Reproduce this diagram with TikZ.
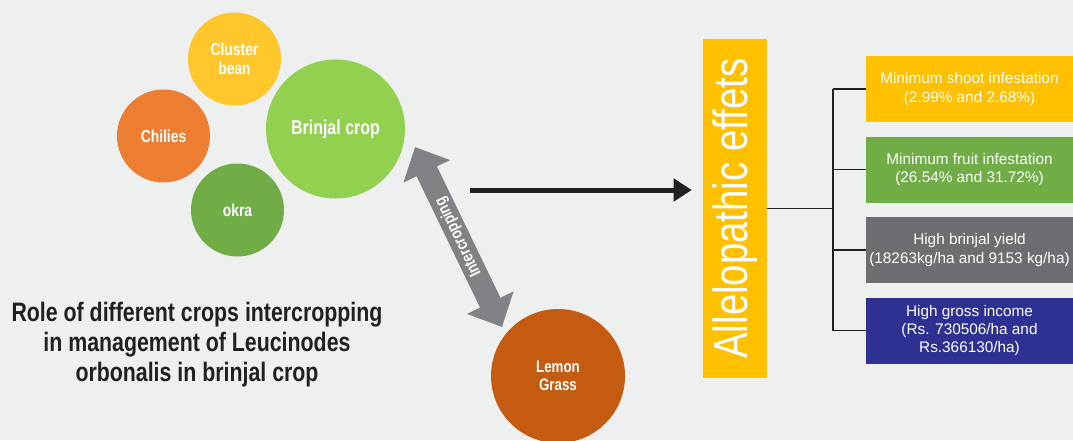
\documentclass[tikz,border=0pt]{standalone}
\usepackage{fontspec}
\setmainfont{Liberation Sans}
\newfontfamily\narrowfont[FakeStretch=0.8]{Liberation Sans}
\usepackage{graphicx}
\usepackage{tikz}
\usetikzlibrary{positioning,arrows.meta}

\definecolor{bgc}{HTML}{EEEFEF}
\definecolor{beanc}{HTML}{FFC72C}
\definecolor{chilic}{HTML}{ED7D31}
\definecolor{okrac}{HTML}{70AD47}
\definecolor{brinjalc}{HTML}{92D050}
\definecolor{lemonc}{HTML}{C55A11}
\definecolor{arrowc}{HTML}{808285}
\definecolor{barc}{HTML}{FFC000}
\definecolor{linec}{HTML}{231F20}
\definecolor{shootc}{HTML}{FFC000}
\definecolor{fruitc}{HTML}{70AD47}
\definecolor{yieldc}{HTML}{6D6E71}
\definecolor{incomec}{HTML}{2E3192}

\begin{document}
\begin{tikzpicture}[x=0.75pt, y=-0.75pt,
    crop/.style={circle, minimum size=69.75pt, inner sep=0pt, align=center, text=white, font=\narrowfont\bfseries\fontsize{13}{14.5}\selectfont},
    effect/.style={rectangle, minimum width=155.25pt, minimum height=49.5pt, inner sep=1pt, align=center, text=white, font=\fontsize{11.5}{13.75}\selectfont},
    link/.style={draw=linec, line width=0.9pt}
]
    \fill [bgc] (0,0) rectangle (1073,440);
    \useasboundingbox (0,0) rectangle (1073,440);

    % crops
    \node [crop, fill=beanc] (bean) at (234.5,59) {Cluster\\bean};
    \node [crop, fill=chilic] (chili) at (163.5,136) {Chilies};
    \node [crop, fill=okrac] (okra) at (237.5,210) {okra};
    \node [crop, fill=brinjalc, minimum size=104.25pt, font=\narrowfont\bfseries\fontsize{15}{16}\selectfont] (brinjal) at (335.5,129) {Brinjal crop};
    \node [crop, fill=lemonc, minimum size=100.5pt, font=\narrowfont\bfseries\fontsize{12.5}{14}\selectfont] (lemon) at (558,376) {Lemon\\Grass};

    \node [font=\narrowfont\bfseries\fontsize{20}{22.5}\selectfont, text=linec, align=center] (title) at (197,345)
        {Role of different crops intercropping\\in management of Leucinodes\\orbonalis in brinjal crop};

    % intercropping arrow
    \coordinate (ictop) at (415,147);
    \coordinate (icbot) at (502,327);
    \draw [draw=arrowc, line width=17pt, {Triangle[length=20.25pt,width=37.5pt]}-{Triangle[length=20.25pt,width=37.5pt]}]
        (icbot) -- node [sloped, allow upside down, text=white, font=\narrowfont\bfseries\fontsize{12.5}{12.5}\selectfont] {Intercropping} (ictop);

    % effects
    \node [fill=barc, minimum width=48pt, minimum height=254.25pt, inner sep=0pt, text=white, font=\narrowfont\fontsize{36}{36}\selectfont] (allelo) at (735,208.5)
        {\rotatebox{90}{Allelopathic effets}};

    \coordinate (fromcrops) at (470,190);
    \draw [draw=linec, line width=3.75pt, -{Triangle[length=13.5pt,width=16.5pt]}, shorten >=8.25pt] (fromcrops) -- (fromcrops -| allelo.west);

    \node [effect, fill=shootc] (shoot) at (969.5,89) {Minimum shoot infestation\\(2.99\% and 2.68\%)};
    \node [effect, fill=fruitc, below=10.5pt of shoot] (fruit) {Minimum fruit infestation\\(26.54\% and 31.72\%)};
    \node [effect, fill=yieldc, below=10.5pt of fruit] (yield) {High brinjal yield\\(18263kg/ha and 9153 kg/ha)};
    \node [effect, fill=incomec, below=10.5pt of yield] (income) {High gross income\\(Rs. 730506/ha and\\Rs.366130/ha)};

    \coordinate (fork) at (833,208.5);
    \draw [link] (allelo.east) -- (fork);
    \draw [link] (fork |- shoot.west) -- (fork |- income.west);
    \foreach \b in {shoot,fruit,yield,income}
        \draw [link] (fork |- \b.west) -- (\b.west);
\end{tikzpicture}
\end{document}
